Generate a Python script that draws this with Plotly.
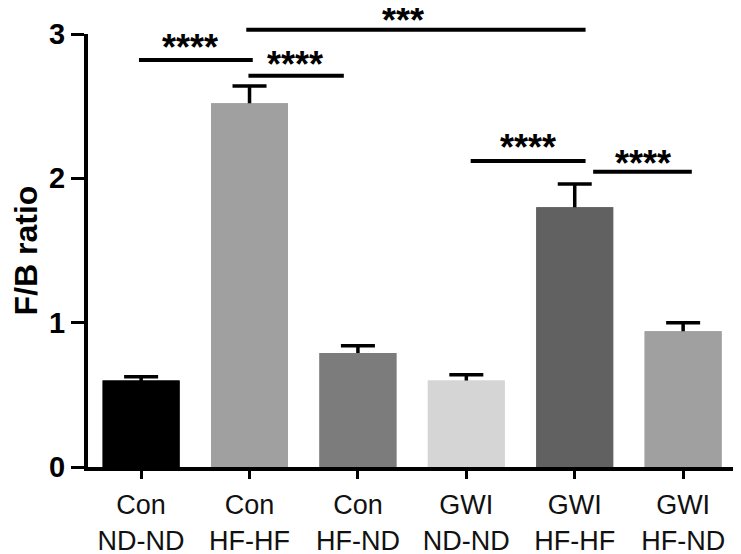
import plotly.graph_objects as go

# ---- data ----
categories = ["Con<br>ND-ND", "Con<br>HF-HF", "Con<br>HF-ND",
              "GWI<br>ND-ND", "GWI<br>HF-HF", "GWI<br>HF-ND"]
fb_ratio = [0.60, 2.52, 0.79, 0.60, 1.80, 0.94]
sem = [0.025, 0.12, 0.05, 0.04, 0.16, 0.06]
bar_colors = ["#000000", "#a0a0a0", "#7c7c7c", "#d5d5d5", "#616161", "#a0a0a0"]

# significance comparisons (data units)
sig_x0 = [-0.02, 0.99, 0.97, 3.04, 4.17]
sig_x1 = [1.03, 1.87, 4.10, 4.10, 5.08]
sig_y = [2.82, 2.71, 3.03, 2.12, 2.045]
sig_label = ["****", "****", "***", "****", "****"]
sig_tx = [0.45, 1.42, 2.42, 3.57, 4.63]
sig_ty = [2.94, 2.82, 3.13, 2.25, 2.14]

X_RANGE = [-0.49, 5.46]
Y_RANGE = [0, 3]

def xp(v):
    return (v - X_RANGE[0]) / (X_RANGE[1] - X_RANGE[0])

def yp(v):
    return (v - Y_RANGE[0]) / (Y_RANGE[1] - Y_RANGE[0])

FONT = "Liberation Sans, Arial, sans-serif"

x_idx = list(range(len(categories)))

fig = go.Figure()
# bars with error bars (lower half hidden by the bars drawn on top)
fig.add_trace(go.Bar(
    x=x_idx, y=fb_ratio, width=0.71,
    marker=dict(color=bar_colors, line=dict(width=0)),
    error_y=dict(type="data", array=sem, symmetric=True,
                 color="black", thickness=3.5, width=17),
    showlegend=False, hoverinfo="skip",
))
fig.add_trace(go.Bar(
    x=x_idx, y=fb_ratio, width=0.71,
    marker=dict(color=bar_colors, line=dict(width=0)),
    showlegend=False,
))

shapes = []
annotations = []
for x0, x1, y, lab, tx, ty in zip(sig_x0, sig_x1, sig_y, sig_label, sig_tx, sig_ty):
    shapes.append(dict(type="line", xref="paper", yref="paper",
                       x0=xp(x0), x1=xp(x1), y0=yp(y), y1=yp(y),
                       line=dict(color="black", width=4)))
    annotations.append(dict(xref="paper", yref="paper", x=xp(tx), y=yp(ty),
                            text=lab, showarrow=False, xanchor="center", yanchor="middle",
                            yshift=-5,
                            font=dict(family=FONT, size=36, color="black", weight="bold")))

fig.update_layout(
    template="none",
    width=733, height=546,
    margin=dict(l=80, r=8, t=26, b=87, autoexpand=False),
    paper_bgcolor="white", plot_bgcolor="white",
    shapes=shapes, annotations=annotations,
    barmode="overlay",
    xaxis=dict(range=X_RANGE, tickmode="array", tickvals=x_idx, ticktext=categories,
               showline=True, linecolor="black", linewidth=4,
               ticks="outside", ticklen=8, tickwidth=3, tickcolor="black",
               showgrid=False, zeroline=False, automargin=False,
               ticklabelstandoff=3,
               tickfont=dict(family=FONT, size=27, color="#111111")),
    yaxis=dict(range=Y_RANGE, tickvals=[0, 1, 2, 3],
               showline=True, linecolor="black", linewidth=4,
               ticks="outside", ticklen=13, tickwidth=3, tickcolor="black",
               showgrid=False, zeroline=False, automargin=False,
               tickfont=dict(family=FONT, size=29, color="black", weight="bold"),
               title=dict(text="F/B ratio", standoff=28,
                          font=dict(family=FONT, size=32, color="black", weight="bold"))),
)

fig.write_html("out.html")
